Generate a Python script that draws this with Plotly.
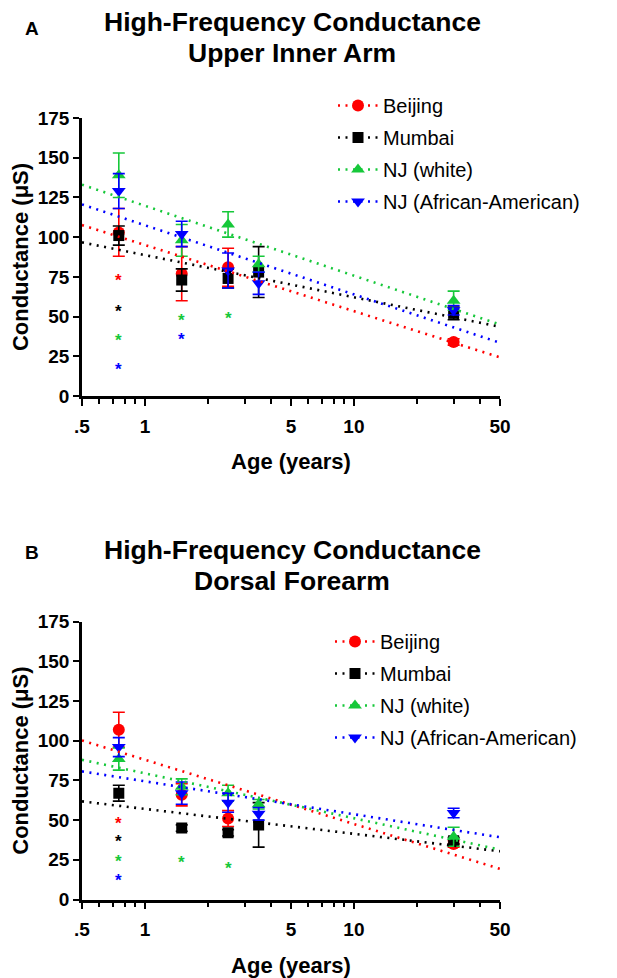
import math
import plotly.graph_objects as go

# ---------------- data ----------------
ages = [0.75, 1.5, 2.5, 3.5, 30]
series_names = ["Beijing", "Mumbai", "NJ (white)", "NJ (African-American)"]

# Panel A: Upper inner arm
a_beijing = [103, 77, 81, None, 34]
a_beijing_err = [15, 17, 12, None, 2]
a_mumbai = [101, 73, 74, 78, 52]
a_mumbai_err = [6, 7, 6, 16, 4]
a_white = [139, 98, 108, 83, 60]
a_white_err = [14, 10, 8, 5, 6]
a_aa = [129, 102, 79, 71, 54]
a_aa_err = [11, 8, 11, 7, 3]
# trend line values at age 0.5 and age 50
trend_ages = [0.5, 50]
a_trend_beijing = [107.6, 24.3]
a_trend_mumbai = [96.7, 43.6]
a_trend_white = [133, 45]
a_trend_aa = [120.6, 33.5]
# significance asterisks (age, value, series index)
a_star_age = [0.75, 0.75, 0.75, 0.75, 1.5, 1.5, 2.5]
a_star_val = [75, 56, 37.5, 19, 50, 38, 51]
a_star_series = [0, 1, 2, 3, 2, 3, 2]

# Panel B: Dorsal forearm
b_beijing = [107, 66, 51, None, 35]
b_beijing_err = [11, 7, 5, None, 2]
b_mumbai = [67, 45, 42, 47, 37]
b_mumbai_err = [5, 2, 2, 14, 2]
b_white = [88.5, 71, 67, 60, 39.5]
b_white_err = [7, 5, 5, 3, 6]
b_aa = [96, 67, 61, 54, 54.5]
b_aa_err = [6, 7, 6, 4, 3]
b_trend_beijing = [100.2, 19.3]
b_trend_mumbai = [61.8, 30.4]
b_trend_white = [88, 31.4]
b_trend_aa = [80.7, 39.2]
b_star_age = [0.75, 0.75, 0.75, 0.75, 1.5, 2.5]
b_star_val = [50.7, 38.8, 26.6, 14.7, 26, 22]
b_star_series = [0, 1, 2, 3, 2, 2]

x_tickvals = [0.5, 1, 5, 10, 50]
x_ticktext = [".5", "1", "5", "10", "50"]
x_minor = [0.6, 0.7, 0.8, 0.9, 2, 3, 4, 6, 7, 8, 9, 20, 30, 40]
y_tickvals = [0, 25, 50, 75, 100, 125, 150, 175]

# ---------------- styling ----------------
SCREEN_W, SCREEN_H = 617, 978
OX, OY = 8, 8                      # default page body margin
W, H = SCREEN_W - OX, SCREEN_H - OY
colors = ["#FF0000", "#000000", "#16C83A", "#0000FF"]
symbols = ["circle", "square", "triangle-up", "triangle-down"]
msizes = [12, 11, 12, 12]
FONT = "Liberation Sans, Arial, sans-serif"
DASH = "2px,5.5px"


def px_x(p):
    return (p - OX) / W


def px_y(p):
    return 1 - (p - OY) / H


fig = go.Figure()

panels = [
    dict(xa="x", ya="y", leg="legend",
         vals=[a_beijing, a_mumbai, a_white, a_aa],
         errs=[a_beijing_err, a_mumbai_err, a_white_err, a_aa_err],
         trends=[a_trend_beijing, a_trend_mumbai, a_trend_white, a_trend_aa],
         stars=(a_star_age, a_star_val, a_star_series)),
    dict(xa="x2", ya="y2", leg="legend2",
         vals=[b_beijing, b_mumbai, b_white, b_aa],
         errs=[b_beijing_err, b_mumbai_err, b_white_err, b_aa_err],
         trends=[b_trend_beijing, b_trend_mumbai, b_trend_white, b_trend_aa],
         stars=(b_star_age, b_star_val, b_star_series)),
]

annotations = []
for p in panels:
    # data points with error bars
    for i in range(4):
        fig.add_trace(go.Scatter(
            x=ages, y=p["vals"][i], mode="markers", xaxis=p["xa"], yaxis=p["ya"],
            marker=dict(symbol=symbols[i], size=msizes[i], color=colors[i], line=dict(width=0)),
            error_y=dict(type="data", array=p["errs"][i], color=colors[i], thickness=1.6, width=6),
            showlegend=False, hoverinfo="skip"))
    # dotted trend lines
    for i in range(4):
        fig.add_trace(go.Scatter(
            x=trend_ages, y=p["trends"][i], mode="lines", xaxis=p["xa"], yaxis=p["ya"],
            line=dict(color=colors[i], width=2.6, dash=DASH),
            showlegend=False, hoverinfo="skip"))
    # legend entries
    for i in range(4):
        fig.add_trace(go.Scatter(
            x=[None], y=[None], mode="lines+markers", xaxis=p["xa"], yaxis=p["ya"],
            name=series_names[i], legend=p["leg"], legendgroup=p["leg"] + str(i),
            line=dict(color=colors[i], width=2.6, dash=DASH),
            marker=dict(symbol=symbols[i], size=msizes[i], color=colors[i])))
    # asterisks
    sa, sv, ss = p["stars"]
    for a, v, s in zip(sa, sv, ss):
        annotations.append(dict(
            x=math.log10(a), y=v, xref=p["xa"], yref=p["ya"], text="*",
            showarrow=False, yshift=-4,
            font=dict(family=FONT, size=17, color=colors[s], weight="bold")))

x_dom = [px_x(82), px_x(500)]
axis_common = dict(showgrid=False, zeroline=False, showline=True, linecolor="black", linewidth=2.6,
                   ticks="outside", tickcolor="black", tickwidth=2.2)
xaxis_cfg = dict(axis_common, type="log", range=[-0.30103, 1.69897],
                 tickmode="array", tickvals=x_tickvals, ticktext=x_ticktext, ticklen=7,
                 ticklabelstandoff=4,
                 tickfont=dict(family=FONT, size=19, color="black", weight="bold"),
                 minor=dict(tickmode="array", tickvals=x_minor, ticks="outside", ticklen=5,
                            tickwidth=2, tickcolor="black"),
                 title=dict(text="Age (years)", standoff=19,
                            font=dict(family=FONT, size=22, color="black", weight="bold")),
                 domain=x_dom)
yaxis_cfg = dict(axis_common, range=[0, 175], tickmode="array", tickvals=y_tickvals, ticklen=6,
                 tickfont=dict(family=FONT, size=19, color="black", weight="bold"),
                 title=dict(text="Conductance (μS)", standoff=3,
                            font=dict(family=FONT, size=22, color="black", weight="bold")))

legend_common = dict(xanchor="left", yanchor="top",
                     font=dict(family=FONT, size=20, color="black"), itemwidth=40,
                     tracegroupgap=3, bgcolor="rgba(0,0,0,0)")

fig.update_layout(
    width=W, height=H, margin=dict(l=0, r=0, t=0, b=0, autoexpand=False),
    paper_bgcolor="white", plot_bgcolor="white",
    xaxis=dict(xaxis_cfg, anchor="y"),
    yaxis=dict(yaxis_cfg, anchor="x", domain=[px_y(396), px_y(118)]),
    xaxis2=dict(xaxis_cfg, anchor="y2"),
    yaxis2=dict(yaxis_cfg, anchor="x2", domain=[px_y(899.5), px_y(621.7)]),
    legend=dict(legend_common, x=px_x(333), y=px_y(86)),
    legend2=dict(legend_common, x=px_x(330), y=px_y(622)),
    showlegend=True,
)

# panel letters and titles (screen pixel positions)
titles = [("A", 28, "High-Frequency Conductance", 22, "Upper Inner Arm", 53),
          ("B", 552, "High-Frequency Conductance", 550, "Dorsal Forearm", 581)]
for letter, ly, line1, y1, line2, y2 in titles:
    annotations.append(dict(x=px_x(32), y=px_y(ly), xref="paper", yref="paper", text=letter,
                            showarrow=False, xanchor="center", yanchor="middle",
                            font=dict(family=FONT, size=19, color="black", weight="bold")))
    for txt, yy in [(line1, y1), (line2, y2)]:
        annotations.append(dict(x=px_x(292), y=px_y(yy), xref="paper", yref="paper",
                                text=txt, showarrow=False, xanchor="center", yanchor="middle",
                                font=dict(family=FONT, size=26.5, color="black", weight="bold")))

fig.update_layout(annotations=annotations)
fig.write_html("out.html")
